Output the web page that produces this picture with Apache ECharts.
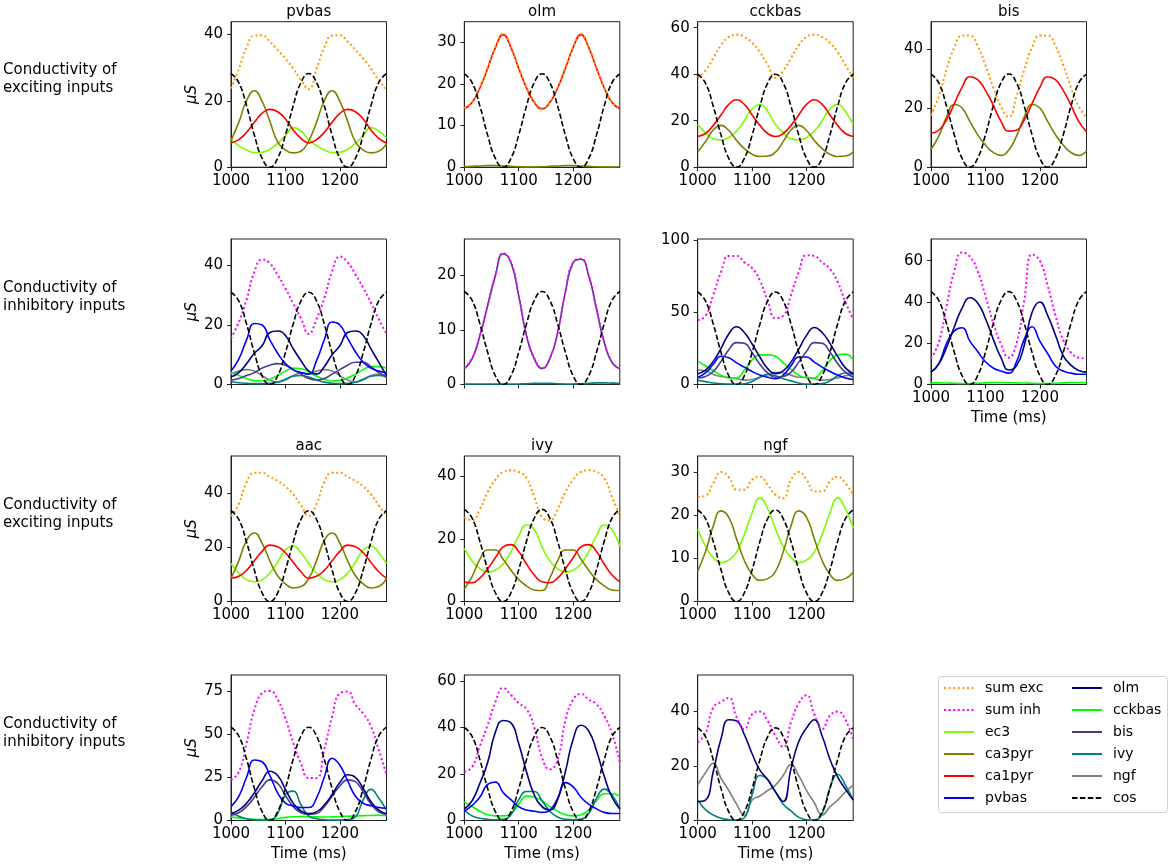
<!DOCTYPE html>
<html>
<head>
<meta charset="utf-8">
<script src="https://cdn.jsdelivr.net/npm/echarts@6/dist/echarts.min.js"></script>
<style>
  body { margin: 0; background: #fff; }
  #chart { width: 1170px; height: 865px; }
</style>
</head>
<body>
<div id="chart"></div>
<script>
// sample times (ms), two theta cycles
const times = [1000, 1014.3, 1028.6, 1042.9, 1057.1, 1071.4, 1085.7, 1100, 1114.3, 1128.6, 1142.9, 1157.1, 1171.4, 1185.7, 1200, 1214.3, 1228.6, 1242.9, 1257.1, 1271.4, 1285.7]
const xTicks = [1000, 1100, 1200]

// pvbas, exciting
const pvbasExcSum = [23.7, 29.5, 36, 39.6, 39.7, 37.8, 35.3, 32.7, 29.7, 26.2, 23.5, 29.5, 36, 39.6, 39.7, 37.8, 35.3, 32.7, 29.7, 26.2, 23.5]
const pvbasExcEc3 = [8.3, 6.5, 5.2, 4.4, 4.5, 5.4, 7.2, 9.5, 11.9, 10.9, 8.3, 6.5, 5.2, 4.4, 4.5, 5.4, 7.2, 9.5, 11.9, 10.9, 8.8]
const pvbasExcCa3 = [8, 13.5, 20, 23, 19.8, 13.8, 7.6, 5.2, 4.3, 4.8, 8, 13.5, 20, 23, 19.8, 13.8, 7.6, 5.2, 4.3, 4.8, 7]
const pvbasExcCa1 = [7.3, 8.3, 10.5, 13.5, 16.2, 17.4, 16.7, 14.5, 11.2, 8.7, 7.3, 8.3, 10.5, 13.5, 16.2, 17.4, 16.7, 14.5, 11.2, 8.7, 7.3]
const pvbasExcCos = [28.2, 25.5, 18.5, 9.7, 2.7, 0, 2.7, 9.7, 18.5, 25.5, 28.2, 25.5, 18.5, 9.7, 2.7, 0, 2.7, 9.7, 18.5, 25.5, 28.2]

// olm, exciting
const olmExcSum = [14.2, 15.7, 19.2, 23.9, 28.9, 32, 28.9, 23.9, 19.2, 15.7, 14.2, 15.7, 19.2, 23.9, 28.9, 32, 28.9, 23.9, 19.2, 15.7, 14.2]
const olmExcCa1 = [14, 15.5, 19, 23.7, 28.7, 31.8, 28.7, 23.7, 19, 15.5, 14, 15.5, 19, 23.7, 28.7, 31.8, 28.7, 23.7, 19, 15.5, 14]
const olmExcCa3 = [0.1, 0.2, 0.3, 0.4, 0.4, 0.3, 0.2, 0.1, 0.05, 0.05, 0.1, 0.2, 0.3, 0.4, 0.4, 0.3, 0.2, 0.1, 0.05, 0.05, 0.1]
const olmExcCos = [22.4, 20.3, 14.7, 7.7, 2.1, 0, 2.1, 7.7, 14.7, 20.3, 22.4, 20.3, 14.7, 7.7, 2.1, 0, 2.1, 7.7, 14.7, 20.3, 22.4]

// cckbas, exciting
const cckExcSum = [38.5, 41.5, 47, 52.5, 56, 57, 56, 53.5, 49.5, 44, 38.5, 41.5, 47, 52.5, 56, 57, 56, 53.5, 49.5, 44, 38.5]
const cckExcEc3 = [18.4, 14.8, 12.2, 11.7, 12.8, 15.5, 20, 25, 27, 24, 18.4, 14.8, 12.2, 11.7, 12.8, 15.5, 20, 25, 27, 24, 18.4]
const cckExcCa3 = [6.5, 11, 16, 18, 15.8, 11.5, 8, 5.6, 4.6, 4.8, 6.5, 11, 16, 18, 15.8, 11.5, 8, 5.6, 4.6, 4.8, 6.5]
const cckExcCa1 = [13.2, 14.5, 18, 22.5, 27, 29, 27, 22.5, 18, 14.5, 13.2, 14.5, 18, 22.5, 27, 29, 27, 22.5, 18, 14.5, 13.2]
const cckExcCos = [40, 36.2, 26.2, 13.8, 3.8, 0, 3.8, 13.8, 26.2, 36.2, 40, 36.2, 26.2, 13.8, 3.8, 0, 3.8, 13.8, 26.2, 36.2, 40]

// bis, exciting
const bisExcSum = [17.5, 24, 33, 40.5, 44.5, 44.5, 41, 34.5, 27, 20.5, 17, 24, 33, 40.5, 44.5, 44.5, 41, 34.5, 27, 20.5, 17]
const bisExcCa3 = [6, 10.5, 17, 21.2, 20, 15.5, 11, 7.5, 5, 4, 5.8, 10.5, 17, 21.2, 20, 15.5, 11, 7.5, 5, 4, 5.5]
const bisExcCa1 = [11.5, 12.5, 16, 21.5, 27, 30.6, 29.6, 26, 21, 15.5, 12.2, 12.5, 16, 21.5, 27, 30.6, 29.6, 26, 21, 15.5, 12]
const bisExcCos = [31.5, 28.5, 20.6, 10.9, 3, 0, 3, 10.9, 20.6, 28.5, 31.5, 28.5, 20.6, 10.9, 3, 0, 3, 10.9, 20.6, 28.5, 31.5]

// pvbas, inhibitory
const pvbasInhSum = [15.5, 21, 28.5, 37.9, 42, 40.7, 36.8, 32.3, 27.2, 22.2, 17, 22, 29, 38, 43, 41, 37, 32.5, 27.5, 22, 17]
const pvbasInhPv = [4.5, 8.5, 15, 20.5, 20, 15, 10.5, 7, 5, 4, 3.5, 8, 15, 21, 20, 15.5, 11, 7.5, 5.5, 4.5, 4]
const pvbasInhOlm = [2.5, 4, 7, 10.5, 13, 17.5, 18, 16.5, 12, 8, 4.5, 3.5, 6, 10, 13, 17.5, 18, 16.5, 12, 7.5, 3]
const pvbasInhBis = [1.5, 2, 3, 4, 5.5, 6.5, 7, 6.5, 5, 3.5, 2, 1.5, 2, 3.5, 5, 6.5, 7.5, 7.5, 6, 4, 2.5]
const pvbasInhCck = [4, 3, 2, 1.3, 1.2, 1.8, 3, 4.5, 5.5, 5.3, 4.2, 2.8, 1.8, 1.2, 1.3, 2.2, 3.5, 5, 6, 6, 5.5]
const pvbasInhIvy = [1, 0.6, 0.4, 0.3, 0.3, 0.4, 0.8, 1.8, 2.8, 3, 2.5, 1.5, 0.8, 0.4, 0.3, 0.4, 0.8, 1.8, 2.8, 3, 2.5]
const pvbasInhNgf = [3.5, 4.5, 5, 4.5, 3, 1.5, 0.8, 1.5, 3, 3.8, 3.5, 4.5, 5, 4.5, 3, 1.5, 0.8, 1.5, 3, 3.5, 3]
const pvbasInhCos = [31, 28.1, 20.3, 10.7, 2.9, 0, 2.9, 10.7, 20.3, 28.1, 31, 28.1, 20.3, 10.7, 2.9, 0, 2.9, 10.7, 20.3, 28.1, 31]

// olm, inhibitory
const olmInhSum = [3, 4.8, 9, 14.5, 20, 24, 22.4, 16.3, 9, 4.8, 3, 4.8, 9.5, 17, 22.4, 23, 20, 13.9, 7.8, 4.1, 3]
const olmInhBis = [2.9, 4.7, 8.9, 14.4, 19.9, 23.9, 22.3, 16.2, 8.9, 4.7, 2.9, 4.7, 9.4, 16.9, 22.3, 22.9, 19.9, 13.8, 7.7, 4, 2.9]
const olmInhIvy = [0.1, 0.1, 0.1, 0.1, 0.1, 0.1, 0.1, 0.1, 0.15, 0.2, 0.2, 0.2, 0.15, 0.1, 0.1, 0.15, 0.2, 0.3, 0.3, 0.25, 0.2]
const olmInhCos = [17, 15.4, 11.1, 5.9, 1.6, 0, 1.6, 5.9, 11.1, 15.4, 17, 15.4, 11.1, 5.9, 1.6, 0, 1.6, 5.9, 11.1, 15.4, 17]

// cckbas, inhibitory
const cckInhSum = [44.5, 47.5, 62, 78, 89, 89, 84.5, 80.5, 72, 58, 46, 47.5, 62, 78, 89.5, 89, 84.5, 80, 71, 57, 45]
const cckInhOlm = [7.5, 10, 16, 25, 35, 40, 36, 28, 19, 11, 7.5, 9.5, 15.5, 24.5, 34, 39.5, 36, 28.5, 19.5, 11.5, 7.5]
const cckInhBis = [4.5, 5.5, 9, 16, 24, 29, 28.5, 22, 14, 8, 5, 5.5, 8.5, 15.5, 23, 29, 28.5, 22.5, 14.5, 8.5, 5]
const cckInhPv = [5, 8, 14, 19.5, 18.5, 15, 12, 9, 6.5, 5, 4, 6.5, 13, 19, 19, 15.5, 12, 9, 6.5, 4.5, 3.5]
const cckInhCck = [16, 13, 9.5, 6.5, 4.5, 4.5, 10, 17, 20.5, 20.5, 19.5, 15, 10.5, 6.5, 4.5, 4.5, 9.5, 16.5, 20.5, 21, 17]
const cckInhNgf = [10, 9.5, 7, 5.5, 5, 4, 3, 3.5, 5, 7, 8.5, 8, 6.5, 5, 5, 4, 3, 3.5, 4.5, 6, 7]
const cckInhIvy = [3, 2, 1, 0.5, 0.3, 0.3, 0.5, 2, 5, 7, 6, 4, 2.5, 1, 0.3, 0.3, 0.6, 2.5, 6, 8, 7]
const cckInhCos = [64, 57.9, 41.9, 22.1, 6.1, 0, 6.1, 22.1, 41.9, 57.9, 64, 57.9, 41.9, 22.1, 6.1, 0, 6.1, 22.1, 41.9, 57.9, 64]

// bis, inhibitory
const bisInhSum = [12.6, 20.5, 38, 55, 64, 62, 55, 43, 30, 19.5, 13, 20, 41, 63, 60, 48, 33.5, 21.5, 15.5, 13, 12.6]
const bisInhOlm = [6, 10, 18, 28, 37, 42, 39.5, 32, 22, 13, 7, 9, 19, 35, 40, 33.5, 24, 14, 9.4, 6.8, 6]
const bisInhPv = [6, 10, 20, 26, 27.5, 21, 16, 11, 8, 6.5, 5.5, 11, 22, 28, 21, 15, 9, 6.5, 5.5, 5, 5]
const bisInhCck = [0.8, 0.8, 0.7, 0.6, 0.5, 0.5, 0.6, 0.8, 1, 1, 0.9, 0.8, 0.7, 0.6, 0.5, 0.5, 0.6, 0.8, 1, 1, 0.9]
const bisInhCos = [45, 40.7, 29.5, 15.5, 4.3, 0, 4.3, 15.5, 29.5, 40.7, 45, 40.7, 29.5, 15.5, 4.3, 0, 4.3, 15.5, 29.5, 40.7, 45]

// aac, exciting
const aacExcSum = [31.5, 36, 44, 47.5, 47.5, 46, 44.5, 42.5, 39.5, 35.5, 31.5, 36, 44, 47.5, 47.5, 46, 44.5, 42.5, 39.5, 35.5, 31.5]
const aacExcEc3 = [14, 10.5, 8, 7.3, 8, 10.5, 14.5, 19, 20.5, 18, 14, 10.5, 8, 7.3, 8, 10.5, 14.5, 19, 20.5, 18, 14]
const aacExcCa3 = [8.5, 15, 22.5, 25.3, 21.5, 15, 9.5, 6.5, 5, 5.5, 8.5, 15, 22.5, 25.3, 21.5, 15, 9.5, 6.5, 5, 5.5, 8.5]
const aacExcCa1 = [8.6, 9.3, 11.5, 15, 18.5, 20.8, 20.2, 18, 14.5, 11, 8.6, 9.3, 11.5, 15, 18.5, 20.8, 20.2, 18, 14.5, 11, 8.6]
const aacExcCos = [33.5, 30.3, 21.9, 11.6, 3.2, 0, 3.2, 11.6, 21.9, 30.3, 33.5, 30.3, 21.9, 11.6, 3.2, 0, 3.2, 11.6, 21.9, 30.3, 33.5]

// ivy, exciting
const ivyExcSum = [27, 26, 29.5, 35, 39, 41.5, 42, 41.5, 39.5, 33.5, 27, 26, 29.5, 35, 39, 41.5, 42, 41.5, 39.5, 33.5, 27]
const ivyExcEc3 = [17, 13, 10.5, 9.4, 10, 12, 16, 21, 24.5, 23, 17.5, 13, 10.5, 9.4, 10, 12, 16, 21, 24.5, 23, 17.5]
const ivyExcCa3 = [4, 8, 13.5, 16.5, 16.5, 13.5, 10, 7, 5, 3.7, 3.5, 7.5, 13, 16.5, 16.5, 13.5, 10, 7, 5, 3.7, 3.5]
const ivyExcCa1 = [6.2, 6, 7.5, 10.5, 14, 17.5, 18.2, 16, 12, 8.5, 6.3, 6, 7.5, 10.5, 14, 17.5, 18.2, 16, 12, 8.5, 6.3]
const ivyExcCos = [29.5, 26.7, 19.3, 10.2, 2.8, 0, 2.8, 10.2, 19.3, 26.7, 29.5, 26.7, 19.3, 10.2, 2.8, 0, 2.8, 10.2, 19.3, 26.7, 29.5]

// ngf, exciting
const ngfExcSum = [24.2, 24.5, 27.4, 30, 28.8, 25.9, 25.9, 28.2, 28.9, 27, 24.7, 23.9, 28.2, 30, 28.2, 25.5, 25.5, 27.8, 28.9, 27.4, 24.7]
const ngfExcEc3 = [16.8, 12.8, 10.2, 9, 9.6, 11.5, 15.5, 20.5, 24, 21.5, 16.8, 12.8, 10.2, 9, 9.6, 11.5, 15.5, 20.5, 24, 21.5, 17]
const ngfExcCa3 = [7, 11.5, 17.5, 21, 19.5, 14.5, 9.5, 6.3, 4.9, 5.3, 7, 11.5, 17.5, 21, 19.5, 14.5, 9.5, 6.3, 4.9, 5.3, 6.8]
const ngfExcCos = [21.2, 19.2, 13.9, 7.3, 2, 0, 2, 7.3, 13.9, 19.2, 21.2, 19.2, 13.9, 7.3, 2, 0, 2, 7.3, 13.9, 19.2, 21.2]

// aac, inhibitory
const aacInhSum = [23.5, 28, 44.8, 64, 73.6, 75, 70, 59, 45, 33, 24.6, 24.6, 41, 60, 73.6, 74.6, 67, 62, 54.4, 41, 26.5]
const aacInhPv = [8, 14, 25, 35, 34, 26, 16, 10, 8.5, 7.5, 7.5, 13, 25, 36, 32, 23, 14, 10, 8.5, 7.5, 7]
const aacInhOlm = [4, 6, 10, 16, 23, 28.5, 26, 18, 10, 5.5, 4, 5, 9, 15, 22, 26.5, 25, 18.5, 11, 6, 4]
const aacInhBis = [3, 4.5, 8, 13.5, 19.5, 23.5, 21.5, 14.5, 8, 4.5, 3.5, 4, 8, 14, 20, 23.5, 22.5, 16.5, 9.5, 5, 3.5]
const aacInhIvy = [5, 2.5, 1, 0.5, 0.3, 0.5, 4, 15, 17, 9, 2.5, 1, 0.5, 0.3, 0.3, 0.5, 2, 12, 18, 13, 6]
const aacInhCck = [2, 1.5, 1, 0.6, 0.5, 0.6, 1, 1.8, 2.2, 2.3, 2.2, 2.1, 2, 2.1, 2.3, 2.5, 2.6, 2.8, 2.9, 3, 2.8]
const aacInhCos = [54, 48.9, 35.4, 18.6, 5.1, 0, 5.1, 18.6, 35.4, 48.9, 54, 48.9, 35.4, 18.6, 5.1, 0, 5.1, 18.6, 35.4, 48.9, 54]

// ivy, inhibitory
const ivyInhSum = [21, 23, 32, 41, 51, 57, 54, 50.5, 48, 40, 27, 22, 26, 43, 52, 54.5, 52, 50, 45, 37.5, 25]
const ivyInhOlm = [5, 8.5, 16, 25, 38, 43, 42, 33, 21, 11, 6, 4.5, 9, 21, 35, 41, 38.5, 30, 19, 10, 5]
const ivyInhPv = [4, 6.5, 10, 15.5, 16.5, 12, 9, 6, 4.5, 4, 3.5, 4.5, 9.5, 16.3, 14.5, 10, 7, 5, 3.5, 3, 3]
const ivyInhCck = [8, 6, 4, 2.5, 2, 2, 3, 7, 10.5, 10, 8.5, 6, 4, 2.5, 2, 2.5, 4.5, 8.5, 11.5, 11.5, 10.5]
const ivyInhIvy = [4.5, 2, 1, 0.5, 0.3, 0.5, 2.5, 9, 12.5, 12.5, 8.5, 4, 1.5, 0.5, 0.3, 0.6, 3, 9.5, 13.5, 11, 5]
const ivyInhCos = [40, 36.2, 26.2, 13.8, 3.8, 0, 3.8, 13.8, 26.2, 36.2, 40, 36.2, 26.2, 13.8, 3.8, 0, 3.8, 13.8, 26.2, 36.2, 40]

// ngf, inhibitory
const ngfInhSum = [28.7, 32, 41.5, 43.5, 45, 38, 33.5, 39, 40, 36.5, 31, 27, 36, 43, 46, 39, 33.5, 38.5, 40, 37, 29.5]
const ngfInhOlm = [7, 7.5, 18, 30, 37, 36.5, 31.5, 24.5, 18.5, 15, 10.5, 7, 19, 29, 34, 37, 31, 22.5, 16, 11.5, 7.5]
const ngfInhNgf = [13, 17.5, 21, 15.5, 11, 6, 2, 7.5, 9, 11, 13, 16.5, 20.5, 16.5, 11, 6.5, 2, 5, 7.5, 10.5, 13]
const ngfInhIvy = [7.5, 4, 2, 0.8, 0.3, 0.2, 1, 9.5, 16.5, 15, 10.5, 6, 3.5, 1.2, 0.3, 0.2, 2.5, 12, 17, 13, 7.5]
const ngfInhCos = [34, 30.8, 22.3, 11.7, 3.2, 0, 3.2, 11.7, 22.3, 30.8, 34, 30.8, 22.3, 11.7, 3.2, 0, 3.2, 11.7, 22.3, 30.8, 34]

const colors = {
    'sum exc': '#ff9900', 'sum inh': '#ff00ff', ec3: '#7cfc00', ca3pyr: '#808000',
    ca1pyr: '#ff0000', pvbas: '#0000ff', olm: '#000080', cckbas: '#00ff00',
    bis: '#483d8b', ivy: '#008080', ngf: '#808080', cos: '#000000',
}

const rowLabels = ['Conductivity of\nexciting inputs', 'Conductivity of\ninhibitory inputs',
    'Conductivity of\nexciting inputs', 'Conductivity of\ninhibitory inputs']

const panels = [
    { title: 'pvbas', row: 0, col: 0, yMax: 43.8, yTicks: [0, 20, 40], lines: [['ec3', pvbasExcEc3], ['ca3pyr', pvbasExcCa3], ['ca1pyr', pvbasExcCa1], ['sum exc', pvbasExcSum], ['cos', pvbasExcCos]] },
    { title: 'olm', row: 0, col: 1, yMax: 34.9, yTicks: [0, 10, 20, 30], lines: [['ca3pyr', olmExcCa3], ['ca1pyr', olmExcCa1], ['sum exc', olmExcSum], ['cos', olmExcCos]] },
    { title: 'cckbas', row: 0, col: 2, yMax: 62.6, yTicks: [0, 20, 40, 60], lines: [['ec3', cckExcEc3], ['ca3pyr', cckExcCa3], ['ca1pyr', cckExcCa1], ['sum exc', cckExcSum], ['cos', cckExcCos]] },
    { title: 'bis', row: 0, col: 3, yMax: 49.2, yTicks: [0, 20, 40], lines: [['ca3pyr', bisExcCa3], ['ca1pyr', bisExcCa1], ['sum exc', bisExcSum], ['cos', bisExcCos]] },
    { title: '', row: 1, col: 0, yMax: 48.9, yTicks: [0, 20, 40], lines: [['ngf', pvbasInhNgf], ['ivy', pvbasInhIvy], ['cckbas', pvbasInhCck], ['bis', pvbasInhBis], ['olm', pvbasInhOlm], ['pvbas', pvbasInhPv], ['sum inh', pvbasInhSum], ['cos', pvbasInhCos]] },
    { title: '', row: 1, col: 1, yMax: 26.6, yTicks: [0, 10, 20], lines: [['ivy', olmInhIvy], ['bis', olmInhBis], ['sum inh', olmInhSum], ['cos', olmInhCos]] },
    { title: '', row: 1, col: 2, yMax: 100.7, yTicks: [0, 50, 100], lines: [['ngf', cckInhNgf], ['ivy', cckInhIvy], ['cckbas', cckInhCck], ['pvbas', cckInhPv], ['bis', cckInhBis], ['olm', cckInhOlm], ['sum inh', cckInhSum], ['cos', cckInhCos]] },
    { title: '', row: 1, col: 3, yMax: 70.5, yTicks: [0, 20, 40, 60], lines: [['cckbas', bisInhCck], ['pvbas', bisInhPv], ['olm', bisInhOlm], ['sum inh', bisInhSum], ['cos', bisInhCos]] },
    { title: 'aac', row: 2, col: 0, yMax: 53.7, yTicks: [0, 20, 40], lines: [['ec3', aacExcEc3], ['ca3pyr', aacExcCa3], ['ca1pyr', aacExcCa1], ['sum exc', aacExcSum], ['cos', aacExcCos]] },
    { title: 'ivy', row: 2, col: 1, yMax: 46.6, yTicks: [0, 20, 40], lines: [['ec3', ivyExcEc3], ['ca3pyr', ivyExcCa3], ['ca1pyr', ivyExcCa1], ['sum exc', ivyExcSum], ['cos', ivyExcCos]] },
    { title: 'ngf', row: 2, col: 2, yMax: 33.7, yTicks: [0, 10, 20, 30], lines: [['ec3', ngfExcEc3], ['ca3pyr', ngfExcCa3], ['sum exc', ngfExcSum], ['cos', ngfExcCos]] },
    { title: '', row: 3, col: 0, yMax: 84.2, yTicks: [0, 25, 50, 75], lines: [['cckbas', aacInhCck], ['ivy', aacInhIvy], ['bis', aacInhBis], ['olm', aacInhOlm], ['pvbas', aacInhPv], ['sum inh', aacInhSum], ['cos', aacInhCos]] },
    { title: '', row: 3, col: 1, yMax: 62.6, yTicks: [0, 20, 40, 60], lines: [['cckbas', ivyInhCck], ['ivy', ivyInhIvy], ['pvbas', ivyInhPv], ['olm', ivyInhOlm], ['sum inh', ivyInhSum], ['cos', ivyInhCos]] },
    { title: '', row: 3, col: 2, yMax: 53.4, yTicks: [0, 20, 40], lines: [['ngf', ngfInhNgf], ['ivy', ngfInhIvy], ['olm', ngfInhOlm], ['sum inh', ngfInhSum], ['cos', ngfInhCos]] },
]

const colLeft = [231, 464.3, 697.7, 931]
const rowTop = [21.7, 239, 456, 675]
const boxW = 155.5
const boxH = 145.5
const font = 'DejaVu Sans'

const chart = echarts.init(document.getElementById('chart'), null, { renderer: 'canvas' })

const grids = [], xAxes = [], yAxes = [], series = [], titles = []
panels.forEach((p, i) => {
    const left = colLeft[p.col]
    const top = rowTop[p.row]
    const xLabels = p.row !== 1 || p.col === 3
    const xName = (p.row === 1 && p.col === 3) || p.row === 3
    grids.push({ left, top, width: boxW, height: boxH, show: true, borderColor: '#222', borderWidth: 1 })
    xAxes.push({
        type: 'value', gridIndex: i, min: 1000, max: 1285.7,
        axisLine: { show: true, onZero: false, lineStyle: { color: '#222', width: 1 } },
        axisTick: { show: true, length: 4, customValues: xTicks, lineStyle: { color: '#222' } },
        axisLabel: { show: xLabels, customValues: xTicks, formatter: v => String(v), margin: 6, fontSize: 15, color: '#000', fontFamily: font },
        splitLine: { show: false },
        name: xName ? 'Time (ms)' : '', nameLocation: 'middle', nameGap: 26,
        nameTextStyle: { fontSize: 15, color: '#000', fontFamily: font },
    })
    yAxes.push({
        type: 'value', gridIndex: i, min: 0, max: p.yMax,
        axisLine: { show: true, lineStyle: { color: '#222', width: 1 } },
        axisTick: { show: true, length: 4, customValues: p.yTicks, lineStyle: { color: '#222' } },
        axisLabel: { customValues: p.yTicks, formatter: v => String(v), margin: 8, fontSize: 15, color: '#000', fontFamily: font },
        splitLine: { show: false },
        name: p.col === 0 ? 'μS' : '', nameLocation: 'middle', nameGap: 31, nameRotate: 90,
        nameTextStyle: { fontSize: 15, color: '#000', fontFamily: font, fontStyle: 'italic' },
    })
    if (p.title) {
        titles.push({
            text: p.title, left: left + boxW / 2, top: top - 17, textAlign: 'center',
            textStyle: { fontSize: 15, fontWeight: 'normal', color: '#000', fontFamily: font },
            padding: 0,
        })
    }
    p.lines.forEach(([name, vals]) => {
        const isCos = name === 'cos'
        const isSum = name.startsWith('sum')
        series.push({
            type: 'line', name, xAxisIndex: i, yAxisIndex: i,
            data: times.map((t, k) => [t, vals[k]]),
            symbol: 'none', smooth: 0.5, silent: true,
            lineStyle: { color: colors[name], width: isSum ? 2 : 1.6, type: isCos ? [5.5, 2.4] : isSum ? [2, 2.6] : 'solid' },
            itemStyle: { color: colors[name] },
            z: isCos ? 4 : isSum ? 3 : 2,
        })
    })
})

const legendBase = {
    orient: 'vertical', top: 681, itemWidth: 30, itemHeight: 14, itemGap: 8, padding: 0,
    selectedMode: false,
    itemStyle: { opacity: 0, borderWidth: 0 },
    textStyle: { fontSize: 14, color: '#000', fontFamily: font, padding: [0, 0, 0, 6] },
}

const graphic = rowLabels.map((txt, r) => ({
    type: 'text', left: 3, top: rowTop[r] + boxH / 2 - 15 - 18,
    style: { text: txt, font: '15px "DejaVu Sans"', fill: '#000', lineHeight: 18 },
}))
graphic.push({
    type: 'rect', left: 938, top: 676, z: -1,
    shape: { width: 229, height: 136, r: 3 },
    style: { fill: '#fff', stroke: '#d0d0d0', lineWidth: 1 },
})

chart.setOption({
    animation: false,
    backgroundColor: '#fff',
    title: titles,
    grid: grids,
    xAxis: xAxes,
    yAxis: yAxes,
    legend: [
        Object.assign({}, legendBase, { left: 943, data: ['sum exc', 'sum inh', 'ec3', 'ca3pyr', 'ca1pyr', 'pvbas'] }),
        Object.assign({}, legendBase, { left: 1071, data: ['olm', 'cckbas', 'bis', 'ivy', 'ngf', 'cos'] }),
    ],
    graphic,
    series,
})
</script>
</body>
</html>
